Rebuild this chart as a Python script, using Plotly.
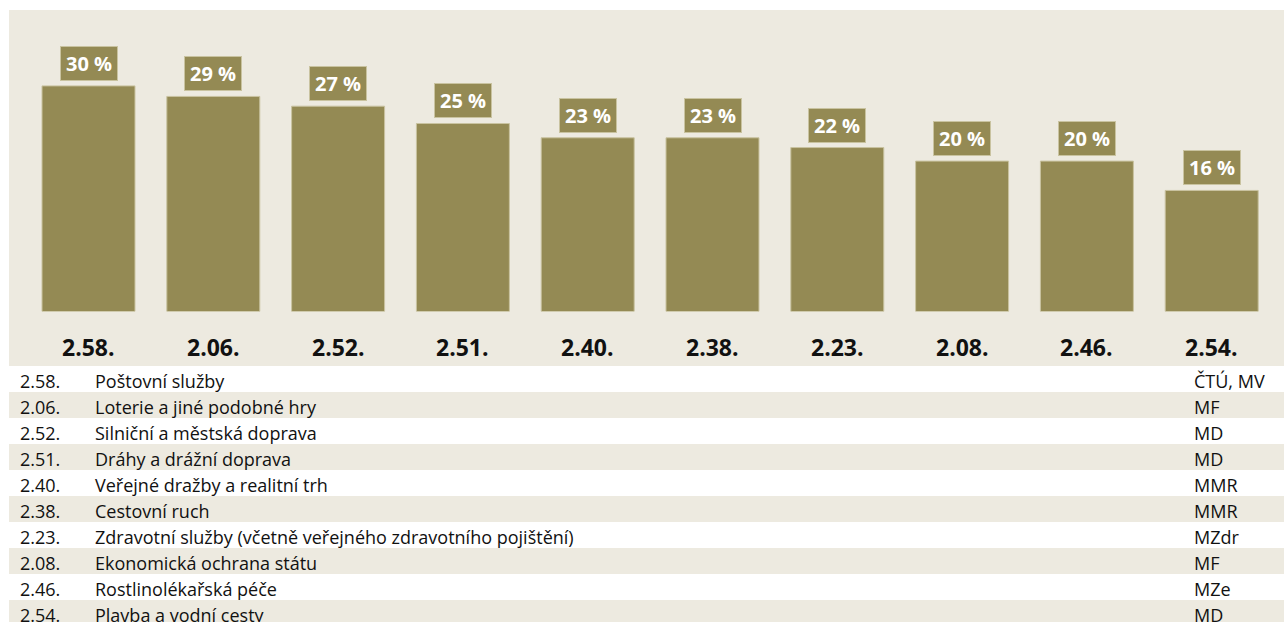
import plotly.graph_objects as go

# ---- data ----
categories = ["2.58.", "2.06.", "2.52.", "2.51.", "2.40.", "2.38.", "2.23.", "2.08.", "2.46.", "2.54."]
values = [30.0, 28.6, 27.3, 25.0, 23.1, 23.1, 21.8, 20.0, 20.0, 16.1]
value_labels = ["30 %", "29 %", "27 %", "25 %", "23 %", "23 %", "22 %", "20 %", "20 %", "16 %"]
names = [
    "Poštovní služby",
    "Loterie a jiné podobné hry",
    "Silniční a městská doprava",
    "Dráhy a drážní doprava",
    "Veřejné dražby a realitní trh",
    "Cestovní ruch",
    "Zdravotní služby (včetně veřejného zdravotního pojištění)",
    "Ekonomická ochrana státu",
    "Rostlinolékařská péče",
    "Plavba a vodní cesty",
]
ministries = ["ČTÚ, MV", "MF", "MD", "MD", "MMR", "MMR", "MZdr", "MF", "MZe", "MD"]

# ---- style ----
W, H = 1284, 622
BEIGE = "#EDEAE0"
OLIVE = "#948A54"
OLIVE_EDGE = "#C9C3A0"
FONT = "Open Sans"

def px_x(p):
    return p / W

def px_y(p):
    return 1 - p / H

fig = go.Figure()
fig.add_trace(go.Bar(
    x=categories, y=values,
    marker=dict(color=OLIVE, line=dict(color=OLIVE_EDGE, width=1)),
    hoverinfo="skip",
))

shapes = [dict(type="rect", xref="paper", yref="paper",
               x0=px_x(9), x1=1, y0=px_y(366), y1=px_y(10),
               fillcolor=BEIGE, line=dict(width=0), layer="below")]

annotations = []
# value labels and category labels
for c, v, lab in zip(categories, values, value_labels):
    annotations.append(dict(
        x=c, y=v, xref="x", yref="y", text=f"<b>{lab}</b>", showarrow=False,
        yanchor="bottom", yshift=5, width=56, height=33,
        bgcolor=OLIVE, bordercolor=OLIVE_EDGE, borderwidth=1, borderpad=0,
        font=dict(family=FONT, size=20, color="white"),
    ))
    annotations.append(dict(
        x=c, y=px_y(347), xref="x", yref="paper", text=f"<b>{c}</b>",
        showarrow=False, yanchor="middle",
        font=dict(family=FONT, size=23, color="#111111"),
    ))

# table rows
ROW_TOP, ROW_H = 366, 26
for i, (c, n, m) in enumerate(zip(categories, names, ministries)):
    top = ROW_TOP + ROW_H * i
    if i % 2 == 1:
        shapes.append(dict(type="rect", xref="paper", yref="paper",
                           x0=px_x(9), x1=1, y0=px_y(top + ROW_H), y1=px_y(top),
                           fillcolor=BEIGE, line=dict(width=0), layer="below"))
    yc = px_y(top + ROW_H / 2 + 2)
    for xpos, txt in ((18, c), (93, n), (1192, m)):
        annotations.append(dict(
            x=px_x(xpos), y=yc, xref="paper", yref="paper", text=txt,
            showarrow=False, xanchor="left", yanchor="middle",
            font=dict(family=FONT, size=18, color="#111111"),
        ))

x_left, x_right = 26.1, 1274.1
fig.update_layout(
    width=W, height=H, autosize=False,
    margin=dict(l=0, r=0, t=0, b=0),
    paper_bgcolor="white", plot_bgcolor="rgba(0,0,0,0)",
    bargap=0.255, showlegend=False,
    xaxis=dict(domain=[px_x(x_left), px_x(x_right)], range=[-0.5, 9.5],
               showticklabels=False, showgrid=False, zeroline=False, showline=False,
               fixedrange=True),
    yaxis=dict(domain=[px_y(311.5), px_y(11.5)], range=[0, 300 / 7.52],
               showticklabels=False, showgrid=False, zeroline=False, showline=False,
               fixedrange=True),
    shapes=shapes, annotations=annotations,
)

fig.write_html("out.html", config={"displayModeBar": False},
               post_script="document.body.style.margin='0';document.body.style.overflow='hidden';")
